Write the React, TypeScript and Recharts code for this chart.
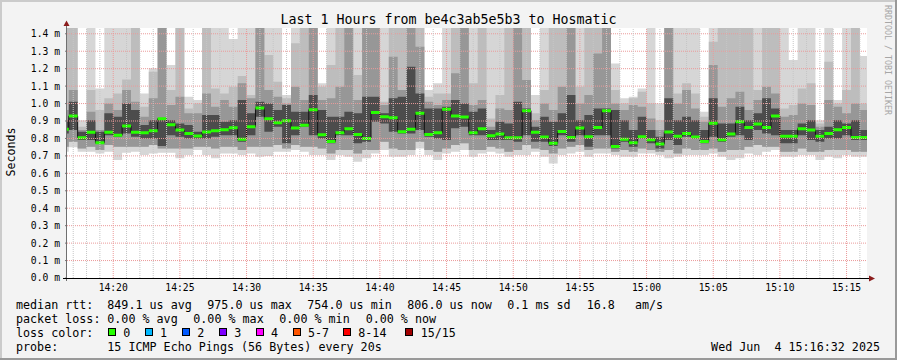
import React from 'react';
import { ComposedChart, Area, XAxis, YAxis, CartesianGrid, ReferenceLine } from 'recharts';

const MONO = '"DejaVu Sans Mono", "Liberation Mono", monospace';

// smoke columns are 40 s steps; the first one starts at 14:16:00 and only its tail shows
const firstStep = '14:16:00';
const stepSeconds = 40;
const viewFrom = '14:16:32';
const viewTo = '15:16:32';
const yTop = 1.4331;

const timeTicks = ['14:20', '14:25', '14:30', '14:35', '14:40', '14:45', '14:50', '14:55', '15:00', '15:05', '15:10', '15:15'];
const yTicks = [0, 0.1, 0.2, 0.3, 0.4, 0.5, 0.6, 0.7, 0.8, 0.9, 1.0, 1.1, 1.2, 1.3, 1.4];

// values in ms, one per 40 s step
const medianRtt = [
  0.852, 0.928, 0.804, 0.835, 0.776, 0.835, 0.818, 0.871, 0.835, 0.833,
  0.844, 0.913, 0.879, 0.848, 0.829, 0.814, 0.837, 0.844, 0.850, 0.861,
  0.795, 0.867, 0.975, 0.913, 0.890, 0.902, 0.860, 0.875, 0.965, 0.821,
  0.783, 0.833, 0.856, 0.823, 0.800, 0.949, 0.925, 0.919, 0.839, 0.852,
  0.944, 0.823, 0.833, 0.967, 0.928, 0.923, 0.833, 0.856, 0.816, 0.825,
  0.804, 0.804, 0.959, 0.835, 0.808, 0.772, 0.840, 0.806, 0.860, 0.810,
  0.863, 0.959, 0.754, 0.795, 0.776, 0.810, 0.793, 0.768, 0.837, 0.812,
  0.829, 0.808, 0.783, 0.887, 0.793, 0.825, 0.896, 0.863, 0.883, 0.863,
  0.928, 0.812, 0.812, 0.856, 0.848, 0.812, 0.829, 0.850, 0.863, 0.806,
  0.806,
];
const pingMax = [
  1.45, 1.45, 0.905, 1.45, 1.087, 1.45, 1.45, 1.45, 1.45, 1.058,
  1.202, 1.45, 1.221, 1.45, 1.039, 1.020, 1.45, 1.45, 1.45, 1.370,
  1.45, 1.45, 1.45, 1.45, 1.45, 1.049, 1.45, 1.45, 1.45, 1.116,
  1.45, 1.45, 1.45, 1.45, 1.45, 1.45, 1.45, 1.45, 1.45, 1.45,
  1.45, 1.077, 1.116, 1.45, 1.45, 1.45, 1.45, 1.45, 1.45, 1.45,
  1.45, 1.45, 1.45, 1.049, 1.45, 1.45, 1.45, 1.45, 1.45, 1.45,
  1.45, 1.45, 1.230, 1.030, 1.039, 1.087, 1.45, 1.001, 1.45, 1.45,
  1.45, 1.45, 0.953, 1.45, 1.45, 1.45, 1.45, 1.45, 1.45, 1.45,
  1.45, 1.45, 1.249, 1.45, 1.45, 0.905, 1.45, 1.020, 1.45, 1.45,
  1.272,
];
const outerHigh = [
  1.45, 1.45, 0.867, 1.077, 0.963, 1.030, 1.058, 1.138, 1.45, 0.982,
  1.182, 1.45, 1.077, 1.45, 0.972, 1.001, 1.45, 1.087, 1.058, 1.096,
  1.158, 1.049, 1.45, 1.278, 1.125, 1.030, 1.345, 1.45, 1.45, 1.096,
  1.221, 1.45, 1.45, 1.163, 1.45, 1.45, 1.011, 1.45, 1.45, 1.45,
  1.45, 1.039, 1.058, 1.058, 1.45, 1.45, 1.116, 1.45, 0.915, 1.049,
  1.45, 1.45, 1.45, 0.944, 1.077, 1.45, 1.45, 1.45, 1.096, 1.45,
  1.45, 1.45, 1.077, 1.001, 1.030, 1.068, 1.001, 0.905, 1.45, 1.058,
  1.116, 1.058, 0.925, 1.354, 1.45, 1.45, 1.45, 1.45, 1.077, 1.45,
  1.45, 0.972, 0.991, 1.087, 1.116, 0.886, 1.240, 1.001, 1.077, 1.45,
  1.001,
];
const midHigh = [
  0.963, 1.077, 0.848, 0.953, 0.848, 1.001, 0.963, 1.077, 1.011, 0.925,
  1.030, 1.45, 0.991, 1.039, 0.944, 0.944, 1.058, 0.982, 1.020, 0.982,
  1.116, 1.030, 1.45, 1.077, 1.039, 1.001, 1.096, 1.020, 1.45, 1.020,
  1.030, 1.096, 1.45, 1.020, 1.45, 1.45, 0.991, 1.268, 1.077, 1.45,
  1.326, 1.011, 0.991, 1.020, 1.173, 1.45, 0.991, 1.020, 0.867, 0.972,
  0.963, 1.45, 1.135, 0.905, 1.001, 0.963, 1.096, 1.45, 1.001, 1.049,
  1.287, 1.45, 1.001, 0.963, 0.991, 0.982, 0.915, 0.848, 1.45, 1.001,
  1.077, 0.972, 0.896, 1.221, 0.982, 1.030, 1.068, 0.963, 1.020, 1.096,
  1.058, 0.925, 0.934, 1.001, 0.991, 0.867, 1.020, 0.982, 0.944, 1.001,
  0.963,
];
const coreHigh = [
  0.905, 1.011, 0.839, 0.905, 0.839, 0.944, 0.925, 1.001, 0.963, 0.877,
  0.905, 0.915, 0.905, 0.886, 0.877, 0.839, 0.934, 0.934, 0.896, 0.905,
  1.020, 0.944, 1.011, 1.001, 0.963, 0.991, 0.953, 0.953, 1.049, 0.963,
  0.925, 0.925, 0.953, 0.944, 1.039, 1.039, 0.944, 1.030, 1.039, 1.211,
  1.058, 0.972, 0.972, 0.982, 1.020, 1.001, 0.953, 0.972, 0.848, 0.896,
  0.886, 1.011, 0.972, 0.867, 0.925, 0.896, 0.944, 1.049, 0.905, 0.934,
  0.972, 0.972, 0.963, 0.905, 0.848, 0.925, 0.848, 0.810, 1.030, 0.905,
  0.925, 0.905, 0.848, 1.030, 0.886, 0.886, 0.982, 0.905, 0.944, 1.030,
  0.972, 0.848, 0.848, 0.886, 0.905, 0.848, 0.867, 0.905, 0.886, 0.905,
  0.848,
];
const coreLow = [
  0.829, 0.848, 0.791, 0.791, 0.768, 0.819, 0.810, 0.829, 0.810, 0.800,
  0.800, 0.756, 0.819, 0.810, 0.800, 0.800, 0.800, 0.810, 0.819, 0.819,
  0.781, 0.819, 0.925, 0.839, 0.867, 0.772, 0.819, 0.867, 0.819, 0.800,
  0.772, 0.819, 0.819, 0.772, 0.781, 0.896, 0.886, 0.839, 0.829, 0.829,
  0.848, 0.810, 0.800, 0.791, 0.858, 0.867, 0.819, 0.819, 0.791, 0.791,
  0.791, 0.781, 0.819, 0.781, 0.781, 0.756, 0.819, 0.781, 0.819, 0.753,
  0.819, 0.819, 0.743, 0.781, 0.753, 0.800, 0.772, 0.743, 0.791, 0.762,
  0.810, 0.800, 0.772, 0.810, 0.781, 0.810, 0.819, 0.791, 0.848, 0.829,
  0.819, 0.772, 0.772, 0.819, 0.791, 0.781, 0.800, 0.800, 0.819, 0.791,
  0.791,
];
const midLow = [
  0.753, 0.781, 0.743, 0.753, 0.734, 0.762, 0.753, 0.753, 0.753, 0.753,
  0.762, 0.743, 0.743, 0.743, 0.743, 0.753, 0.753, 0.743, 0.753, 0.753,
  0.734, 0.753, 0.753, 0.753, 0.762, 0.743, 0.762, 0.753, 0.753, 0.743,
  0.714, 0.734, 0.734, 0.714, 0.734, 0.734, 0.781, 0.743, 0.734, 0.734,
  0.781, 0.734, 0.724, 0.743, 0.762, 0.772, 0.734, 0.734, 0.753, 0.743,
  0.724, 0.734, 0.762, 0.743, 0.734, 0.714, 0.743, 0.753, 0.762, 0.734,
  0.743, 0.743, 0.724, 0.734, 0.724, 0.743, 0.734, 0.724, 0.734, 0.714,
  0.743, 0.734, 0.734, 0.743, 0.724, 0.734, 0.734, 0.753, 0.762, 0.753,
  0.753, 0.724, 0.724, 0.743, 0.724, 0.724, 0.734, 0.734, 0.734, 0.724,
  0.724,
];
const pingMin = [
  0.724, 0.749, 0.724, 0.724, 0.714, 0.724, 0.676, 0.718, 0.724, 0.705,
  0.714, 0.718, 0.718, 0.686, 0.705, 0.734, 0.705, 0.686, 0.714, 0.714,
  0.705, 0.714, 0.695, 0.699, 0.724, 0.724, 0.734, 0.724, 0.705, 0.705,
  0.676, 0.705, 0.695, 0.667, 0.686, 0.714, 0.734, 0.695, 0.695, 0.705,
  0.743, 0.705, 0.676, 0.714, 0.724, 0.734, 0.695, 0.714, 0.724, 0.714,
  0.695, 0.705, 0.705, 0.724, 0.695, 0.657, 0.705, 0.714, 0.724, 0.695,
  0.714, 0.714, 0.705, 0.695, 0.695, 0.714, 0.714, 0.705, 0.686, 0.695,
  0.705, 0.705, 0.705, 0.714, 0.695, 0.676, 0.686, 0.714, 0.705, 0.724,
  0.734, 0.695, 0.695, 0.705, 0.705, 0.676, 0.695, 0.686, 0.705, 0.695,
  0.695,
];

const lossColors = [
  { label: '0', color: '#26ff00', box: 108.5, text: 123.3 },
  { label: '1', color: '#00b8ff', box: 145.5, text: 160 },
  { label: '2', color: '#0059ff', box: 182.5, text: 197.3 },
  { label: '3', color: '#7e00ff', box: 219.5, text: 234.3 },
  { label: '4', color: '#ff00ff', box: 256.5, text: 271 },
  { label: '5-7', color: '#ff5500', box: 293.5, text: 308 },
  { label: '8-14', color: '#ff0000', box: 343.5, text: 358.3 },
  { label: '15/15', color: '#a10000', box: 405.5, text: 420.7 },
];

const toSec = (s: string) => {
  const [h, m, sec = 0] = s.split(':').map(Number);
  return h * 3600 + m * 60 + sec;
};
const pad = (n: number) => String(n).padStart(2, '0');
const fmtTime = (v: number) => `${pad(Math.floor(v / 3600))}:${pad(Math.floor((v % 3600) / 60))}`;

const START = toSec(viewFrom);
const END = toSec(viewTo);
const GREEN_HALF = 0.0086; // median marker half thickness (~1.5px)

const rows = medianRtt.map((m, i) => ({
  t: toSec(firstStep) + i * stepSeconds,
  outer: [pingMin[i], pingMax[i]],
  band2: [midLow[i], outerHigh[i]],
  band3: [midLow[i], midHigh[i]],
  core: [coreLow[i], coreHigh[i]],
  med: m,
  green: [m - GREEN_HALF, m + GREEN_HALF],
}));
// close the last step
rows.push({ ...rows[rows.length - 1], t: rows[rows.length - 1].t + stepSeconds });

const majorX = timeTicks.map(toSec);
const minorX: number[] = [];
for (let s = Math.ceil(START / 60) * 60; s <= END; s += 60) {
  if (s % 300 !== 0) minorX.push(s);
}

const pink = '#eb9a9a';
const minorGray = '#c6c6c6';
const NB = '\u00a0';

export default function App() {
  return (
    <div style={{ position: 'absolute', left: 0, top: 0, width: 897, height: 360, background: '#f3f3f3', fontFamily: MONO }}>
      <ComposedChart
        width={897}
        height={360}
        data={rows}
        margin={{ top: 28, right: 30, bottom: 62, left: 7 }}
      >
        <CartesianGrid fill="#ffffff" horizontal={false} vertical={false} />
        <XAxis
          dataKey="t"
          type="number"
          domain={[START, END]}
          allowDataOverflow
          ticks={majorX}
          interval={0}
          tickFormatter={fmtTime}
          axisLine={false}
          tickLine={false}
          tickSize={0}
          tickMargin={6}
          height={20}
          tick={{ fontSize: 9.7, fontFamily: MONO, fill: '#000' }}
        />
        <YAxis
          type="number"
          domain={[0, yTop]}
          allowDataOverflow
          ticks={yTicks}
          interval={0}
          tickFormatter={(v: number) => `${v.toFixed(1)} m`}
          width={60}
          axisLine={false}
          tickLine={{ stroke: '#777' }}
          tickSize={2}
          tickMargin={5}
          tick={{ fontSize: 9.7, fontFamily: MONO, fill: '#000' }}
        />
        <Area dataKey="outer" type="stepAfter" fill="#d6d6d6" fillOpacity={1} stroke="none" dot={false} activeDot={false} isAnimationActive={false} />
        <Area dataKey="band2" type="stepAfter" fill="#bdbdbd" fillOpacity={1} stroke="none" dot={false} activeDot={false} isAnimationActive={false} />
        <Area dataKey="band3" type="stepAfter" fill="#979797" fillOpacity={1} stroke="none" dot={false} activeDot={false} isAnimationActive={false} />
        <Area dataKey="core" type="stepAfter" fill="#4c4c4c" fillOpacity={1} stroke="none" dot={false} activeDot={false} isAnimationActive={false} />
        {yTicks.filter((v) => v > 0).map((v) => (
          <ReferenceLine key={`h${v}`} y={v} stroke={pink} strokeDasharray="1 1" />
        ))}
        {minorX.map((s) => (
          <ReferenceLine key={`m${s}`} x={s} stroke={minorGray} strokeDasharray="1 1" />
        ))}
        {majorX.map((s) => (
          <ReferenceLine key={`M${s}`} x={s} stroke={pink} strokeDasharray="1 1" />
        ))}
        {/* median: black step outline, then the green marks on top */}
        <Area dataKey="med" type="stepAfter" fill="none" stroke="#111" strokeWidth={1} dot={false} activeDot={false} isAnimationActive={false} />
        <Area dataKey="green" type="stepAfter" fill="#26ff00" fillOpacity={1} stroke="none" dot={false} activeDot={false} isAnimationActive={false} />
      </ComposedChart>

      <svg width={897} height={360} style={{ position: 'absolute', left: 0, top: 0, pointerEvents: 'none' }}>
        {/* frame */}
        <rect x={0} y={0} width={897} height={2} fill="#cbcbcb" />
        <rect x={0} y={0} width={2} height={360} fill="#cbcbcb" />
        <rect x={0} y={358} width={897} height={2} fill="#999999" />
        <rect x={895} y={0} width={2} height={360} fill="#999999" />

        <text x={448.5} y={24} textAnchor="middle" fontSize={13.3} fontFamily={MONO} fill="#000">
          Last 1 Hours from be4c3ab5e5b3 to Hosmatic
        </text>
        <text transform="translate(14.5,152) rotate(-90)" textAnchor="middle" fontSize={11.6} fontFamily={MONO} fill="#000">
          Seconds
        </text>
        <text transform="translate(885,5) rotate(90)" fontSize={8.3} fontFamily={MONO} fill="#a6a6a6">
          RRDTOOL / TOBI OETIKER
        </text>

        {/* axes */}
        <line x1={66.5} y1={23} x2={66.5} y2={281} stroke="#707070" strokeWidth={1} />
        <polygon points="63.5,26 69.5,26 66.5,20.5" fill="#8b1c1c" />
        <line x1={63} y1={278.5} x2={870} y2={278.5} stroke="#000" strokeWidth={1} />
        <polygon points="869,275.5 869,281.5 875,278.5" fill="#8b1c1c" />

        {/* legend */}
        <g fontSize={11.7} fontFamily={MONO} fill="#000">
          <text x={16} y={308.5}>median rtt:</text>
          <text x={107.3} y={308.5}>849.1 us avg</text>
          <text x={207.3} y={308.5}>975.0 us max</text>
          <text x={307.3} y={308.5}>754.0 us min</text>
          <text x={407.3} y={308.5}>806.0 us now</text>
          <text x={507.3} y={308.5}>0.1 ms sd</text>
          <text x={586.7} y={308.5}>16.8</text>
          <text x={635} y={308.5}>am/s</text>

          <text x={16} y={322.5}>packet loss:</text>
          <text x={107.3} y={322.5}>0.00 % avg</text>
          <text x={193.3} y={322.5}>0.00 % max</text>
          <text x={279.3} y={322.5}>0.00 % min</text>
          <text x={365.7} y={322.5}>0.00 % now</text>

          <text x={16} y={336.5}>loss color:</text>
          {lossColors.map((c) => (
            <g key={c.label}>
              <rect x={c.box} y={328.5} width={7} height={7} fill={c.color} stroke="#000" strokeWidth={1} />
              <text x={c.text} y={336.5}>{c.label}</text>
            </g>
          ))}

          <text x={16} y={350.5}>probe:</text>
          <text x={107.3} y={350.5}>15 ICMP Echo Pings (56 Bytes) every 20s</text>
          <text x={880} y={350.5} textAnchor="end">{`Wed Jun ${NB}4 15:16:32 2025`}</text>
        </g>
      </svg>
    </div>
  );
}
